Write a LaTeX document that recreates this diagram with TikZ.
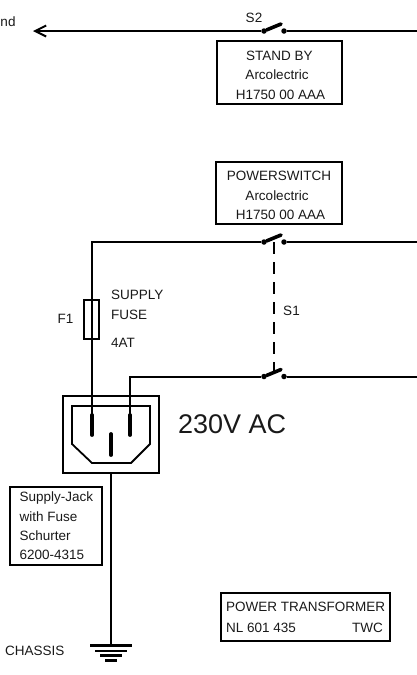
\documentclass[tikz,border=0pt]{standalone}
\usepackage{fontspec}
\setmainfont{Liberation Sans}
\usetikzlibrary{arrows.meta}
\tikzset{
  wire/.style={line width=2pt,line cap=butt,line join=miter},
  blade/.style={line width=3.6pt,line cap=round},
  pin/.style={line width=3.8pt,line cap=round},
  contact/.style={circle,fill=black,inner sep=0pt,minimum size=5.5pt},
  framebox/.style={draw=black,line width=2pt},
  gnd/.style={line width=2.6pt},
  lbl/.style={inner sep=0pt,font=\fontsize{13.5}{16}\selectfont,text=black!90},
  lbll/.style={lbl,anchor=west},
  big/.style={inner sep=0pt,anchor=west,font=\fontsize{27}{30}\selectfont,text=black!90},
  link/.style={line width=1.8pt,dash pattern=on 12pt off 8pt}
}
\begin{document}
\begin{tikzpicture}[x=1pt,y=-1pt]
\useasboundingbox (0,0) rectangle (417,675);
% named points
\coordinate (arrowtip) at (33,31);
\coordinate (eastA) at (417,31);
\coordinate (eastB) at (417,242);
\coordinate (eastC) at (417,376.5);
\coordinate (cornerB) at (92,242);
\coordinate (cornerC) at (130,376.5);
\coordinate (pinLtop) at (92,415);
\coordinate (pinLbot) at (92,435);
\coordinate (pinRtop) at (130,415);
\coordinate (pinRbot) at (130,435);
\coordinate (pinMtop) at (111,434);
\coordinate (pinMbot) at (111,455);
\coordinate (gndtop) at (111,645);
% switches
\node[contact] (s2a) at (264,31) {};
\node[contact] (s2b) at (284,31) {};
\coordinate (s2t) at (281,24);
\node[contact] (s1a) at (264,242) {};
\node[contact] (s1b) at (284,242) {};
\coordinate (s1t) at (281,235);
\coordinate (s1m) at (274,242);
\node[contact] (s3a) at (264,376.5) {};
\node[contact] (s3b) at (284,376.5) {};
\coordinate (s3t) at (281,369.5);
\coordinate (s3m) at (274,372);
% boxes
\node[framebox,minimum width=125pt,minimum height=63pt,inner sep=0pt] (standby) at (279,72.5) {};
\node[framebox,minimum width=126pt,minimum height=62pt,inner sep=0pt] (power) at (279,192.5) {};
\node[framebox,minimum width=15pt,minimum height=39pt,inner sep=0pt] (fuse) at (91.5,319.5) {};
\node[framebox,minimum width=96pt,minimum height=77pt,inner sep=0pt] (jack) at (111,434.5) {};
\node[framebox,minimum width=91.5pt,minimum height=78pt,inner sep=0pt] (supply) at (55.75,526) {};
\node[framebox,minimum width=169pt,minimum height=48pt,inner sep=0pt] (trafo) at (305.5,617) {};
% wires
\draw[wire,-{Straight Barb[length=11pt,width=11pt,line width=2pt]}] (s2a) -- (arrowtip);
\draw[wire] (s2b) -- (eastA);
\draw[wire] (s1b) -- (eastB);
\draw[wire] (s3b) -- (eastC);
\draw[wire] (s1a) -- (cornerB) -- (pinLtop);
\draw[wire] (s3a) -- (cornerC) -- (pinRtop);
\draw[wire] (jack.south) -- (gndtop);
\draw[link] (s1m) -- (s3m);
\draw[blade] (s2a) -- (s2t);
\draw[blade] (s1a) -- (s1t);
\draw[blade] (s3a) -- (s3t);
% socket
\draw[line width=1.8pt,line join=miter] (72,444) -- (72,406) -- (150,406) -- (150,444) -- (131,463) -- (92,463) -- cycle;
\draw[pin] (pinLtop) -- (pinLbot);
\draw[pin] (pinRtop) -- (pinRbot);
\draw[pin] (pinMtop) -- (pinMbot);
% ground
\draw[gnd] (90,645.5) -- (132,645.5);
\draw[gnd] (95,651) -- (127,651);
\draw[gnd] (100,655.5) -- (122,655.5);
\draw[gnd] (105,660.5) -- (117,660.5);
% labels
\node[lbll] (t0) at (0.3,22) {nd};
\node[lbl] (t1) at (254,18) {S2};
\node[lbl] (t2) at (279.3,55.5) {STAND BY};
\node[lbl] (t3) at (277,75) {Arcolectric};
\node[lbl] (t4) at (280.5,95) {H1750 00 AAA};
\node[lbl] (t5) at (279,175.5) {POWERSWITCH};
\node[lbl] (t6) at (277,195.5) {Arcolectric};
\node[lbl] (t7) at (280.5,214.5) {H1750 00 AAA};
\node[lbl] (t8) at (291.5,310.5) {S1};
\node[lbl] (t9) at (65.5,319) {F1};
\node[lbll] (t10) at (111,295) {SUPPLY};
\node[lbll] (t11) at (111,315) {FUSE};
\node[lbll] (t12) at (111,343) {4AT};
\node[big] (t13) at (178,424) {230V AC};
\node[lbll] (t14) at (19.5,498) {Supply-Jack};
\node[lbll] (t15) at (19.5,516.5) {with Fuse};
\node[lbll] (t16) at (19.5,535.5) {Schurter};
\node[lbll] (t17) at (19.5,555) {6200-4315};
\node[lbll] (t18) at (5,651) {CHASSIS};
\node[lbll] (t19) at (226,607) {POWER TRANSFORMER};
\node[lbll] (t20) at (226,627.5) {NL 601 435};
\node[lbl,anchor=east] (t21) at (383,627.5) {TWC};
\end{tikzpicture}
\end{document}
